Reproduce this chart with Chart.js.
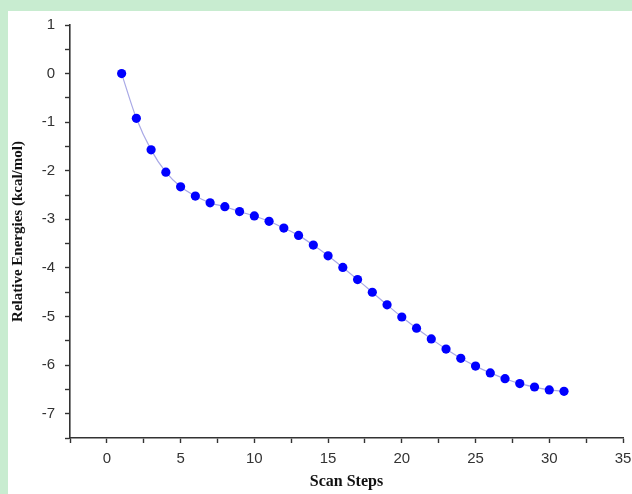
<!DOCTYPE html>
<html>
<head>
<meta charset="utf-8">
<script src="https://cdn.jsdelivr.net/npm/chart.js@4/dist/chart.umd.min.js"></script>
<style>
  html, body { margin: 0; padding: 0; }
  body { width: 632px; height: 494px; background: #c8ecd0; position: relative; overflow: hidden; }
  #panel { position: absolute; left: 8px; top: 11px; width: 624px; height: 483px; background: #ffffff; }
</style>
</head>
<body>
<div id="panel"><canvas id="energyChart" width="624" height="483"></canvas></div>
<script>
// scan steps and relative energies (kcal/mol)
const steps = [1, 2, 3, 4, 5, 6, 7, 8, 9, 10, 11, 12, 13, 14, 15, 16, 17, 18, 19, 20, 21, 22, 23, 24, 25, 26, 27, 28, 29, 30, 31];
const energies = [0, -0.92, -1.57, -2.03, -2.33, -2.52, -2.66, -2.74, -2.84, -2.93, -3.04, -3.18, -3.33, -3.53, -3.75, -3.99, -4.24, -4.50, -4.76, -5.01, -5.24, -5.46, -5.67, -5.86, -6.02, -6.16, -6.28, -6.38, -6.45, -6.51, -6.54];

const xTickLabels = [0, 5, 10, 15, 20, 25, 30, 35];
const yTickLabels = [1, 0, -1, -2, -3, -4, -5, -6, -7];

const axisColor = "#333333";
const labelColor = "#333333";

const points = steps.map((s, i) => ({ x: s, y: energies[i] }));

const ctx = document.getElementById("energyChart").getContext("2d");

new Chart(ctx, {
  type: "scatter",
  data: {
    datasets: [
      {
        data: points,
        showLine: true,
        borderColor: "#a9a9e6",
        borderWidth: 1.2,
        tension: 0.3,
        pointRadius: 4.6,
        pointBackgroundColor: "#0000ff",
        pointBorderColor: "#0000ff",
        pointBorderWidth: 0,
      },
    ],
  },
  options: {
    responsive: false,
    animation: false,
    layout: { padding: { left: 0, right: 9, top: 14, bottom: 0 } },
    plugins: {
      legend: { display: false },
      tooltip: { enabled: false },
    },
    scales: {
      x: {
        type: "linear",
        min: -2.5,
        max: 35,
        afterFit: (scale) => {
          scale.height = 56;
          scale.paddingLeft = 0;
          scale.paddingRight = 0;
        },
        border: { color: axisColor, width: 1.6 },
        grid: { drawOnChartArea: false, drawTicks: true, tickLength: 5, tickColor: axisColor, tickWidth: 1.4 },
        ticks: {
          stepSize: 2.5,
          autoSkip: false,
          maxRotation: 0,
          padding: 7,
          color: labelColor,
          font: { family: "'Liberation Sans', Arial, sans-serif", size: 15 },
          callback: (v) => (xTickLabels.includes(v) ? String(v) : ""),
        },
        title: {
          display: true,
          text: "Scan Steps",
          color: "#111111",
          padding: { top: 0, bottom: 3 },
          font: { family: "'Liberation Serif', 'Times New Roman', serif", size: 16, weight: "bold" },
        },
      },
      y: {
        type: "linear",
        min: -7.5,
        max: 1,
        afterFit: (scale) => {
          scale.width = 62;
          scale.paddingTop = 0;
          scale.paddingBottom = 0;
        },
        border: { color: axisColor, width: 1.6 },
        grid: { drawOnChartArea: false, drawTicks: true, tickLength: 5, tickColor: axisColor, tickWidth: 1.4 },
        ticks: {
          stepSize: 0.5,
          autoSkip: false,
          padding: 10,
          color: labelColor,
          font: { family: "'Liberation Sans', Arial, sans-serif", size: 15 },
          callback: (v) => (yTickLabels.includes(v) ? String(v) : ""),
        },
        title: {
          display: true,
          text: "Relative Energies (kcal/mol)",
          color: "#111111",
          padding: { top: 1, bottom: 0 },
          font: { family: "'Liberation Serif', 'Times New Roman', serif", size: 15, weight: "bold" },
        },
      },
    },
  },
});
</script>
</body>
</html>
